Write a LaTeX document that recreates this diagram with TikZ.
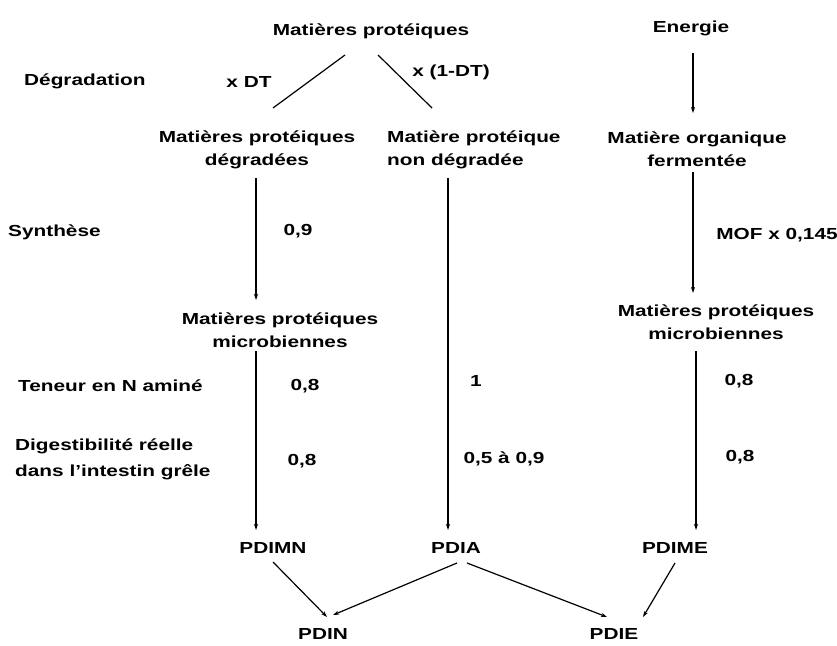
\documentclass[tikz,border=0pt]{standalone}
\usepackage{fontspec}
\setmainfont{Liberation Sans}[FakeStretch=1.3]
\usetikzlibrary{arrows.meta,calc}
\begin{document}
\begin{tikzpicture}[x=1pt,y=-1pt,
  lbl/.style={font=\fontsize{16}{23}\selectfont\bfseries, align=center, inner sep=2pt},
  lft/.style={lbl, anchor=west, align=left},
  link/.style={line width=1.2pt},
  arr/.style={link, -{Stealth[length=6pt,width=4pt]}}]
\useasboundingbox (0,0) rectangle (837,645);
\node[lbl] (mp) at (371,31) {Matières protéiques};
\node[lbl] (en) at (691,28) {Energie};
\node[lft] (degr) at (22,81) {Dégradation};
\node[lbl] (xdt) at (249,82) {x DT};
\node[lbl] (x1dt) at (451,72) {x (1-DT)};
\node[lbl] (mpd) at (257,150) {Matières protéiques\\dégradées};
\node[lft] (mpnd) at (385,150) {Matière protéique\\non dégradée};
\node[lbl] (mof) at (697,149) {Matière organique\\fermentée};
\node[lft] (synth) at (6,232) {Synthèse};
\node[lbl] (n09) at (298,231) {0,9};
\node[lbl] (mofx) at (777,235) {MOF x 0,145};
\node[lbl] (mpm1) at (280,330) {Matières protéiques\\microbiennes};
\node[lbl] (mpm2) at (716,322) {Matières protéiques\\microbiennes};
\node[lft] (ten) at (16,386) {Teneur en N aminé};
\node[lbl] (t1) at (305,386) {0,8};
\node[lbl] (t2) at (476,381) {1};
\node[lbl] (t3) at (739,381) {0,8};
\node[lft] (dig) at (13,459) {Digestibilité réelle\\[3pt]dans l'intestin grêle};
\node[lbl] (d1) at (302,461) {0,8};
\node[lbl] (d2) at (504,459) {0,5 à 0,9};
\node[lbl] (d3) at (740,457) {0,8};
\node[lbl] (pdimn) at (273,548) {PDIMN};
\node[lbl] (pdia) at (456,548) {PDIA};
\node[lbl] (pdime) at (675,548) {PDIME};
\node[lbl] (pdin) at (323,634) {PDIN};
\node[lbl] (pdie) at (614,634) {PDIE};
% connectors
\draw[link] ($(mp)+(-26,24)$) -- ($(mpd)+(16,-42)$);
\draw[link] ($(mp)+(7,24)$) -- ($(mpnd.west)+(47,-42)$);
\draw[arr] ($(en)+(2,25)$) -- ($(mof)+(-4,-36)$);
\draw[arr] ($(mpd)+(-1,28)$) -- ($(mpm1)+(-24,-30)$);
\draw[arr] ($(mof)+(-4,23)$) -- ($(mpm2)+(-23,-29)$);
\draw[arr] ($(mpnd.west)+(63,28)$) -- ($(pdia)+(-8,-18)$);
\draw[arr] ($(mpm1)+(-24,21)$) -- ($(pdimn)+(-17,-18)$);
\draw[arr] ($(mpm2)+(-20,29)$) -- ($(pdime)+(21,-18)$);
\draw[arr] ($(pdimn)+(0,14)$) -- ($(pdin)+(4,-17)$);
\draw[arr] ($(pdia)+(1,15)$) -- ($(pdin)+(10,-19)$);
\draw[arr] ($(pdia)+(11,15)$) -- ($(pdie)+(-7,-17)$);
\draw[arr] ($(pdime)+(0,15)$) -- ($(pdie)+(29,-17)$);
\end{tikzpicture}
\end{document}
